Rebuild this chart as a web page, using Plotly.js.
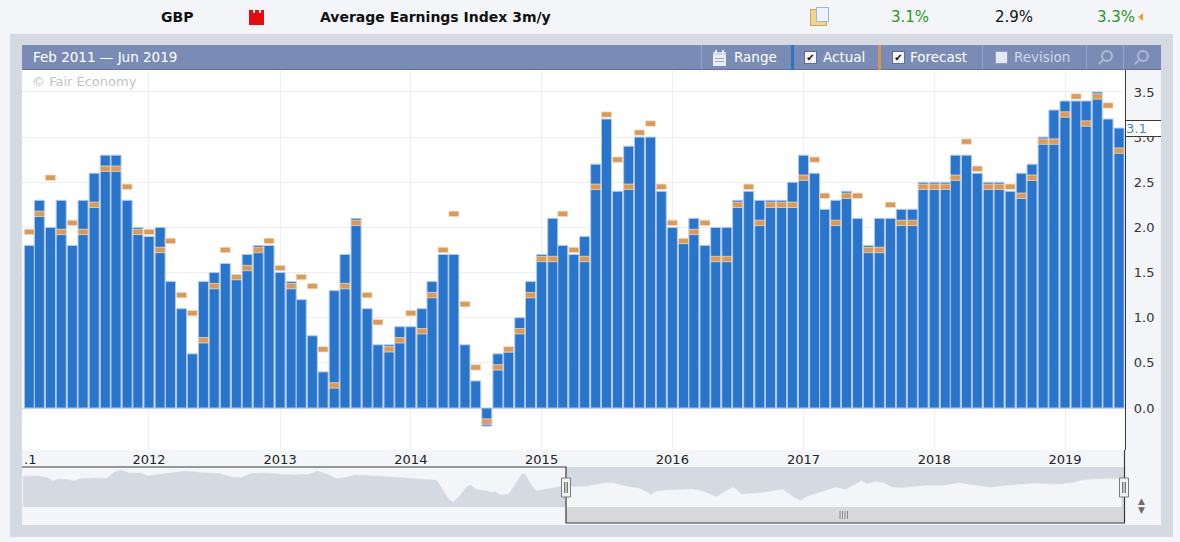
<!DOCTYPE html>
<html>
<head>
<meta charset="utf-8">
<script src="https://cdn.plot.ly/plotly-3.0.1.min.js"></script>
<style>
  body { margin: 0; width: 1180px; height: 542px; overflow: hidden; position: relative;
         background: #f4f5f9; font-family: "DejaVu Sans", sans-serif; }
  .abs { position: absolute; white-space: nowrap; }
  .top { top: 9px; font-size: 14px; line-height: 16px; }
  .btn { top: 45px; height: 24px; line-height: 24px; font-size: 13.5px; color: #fff; }
  .sep { top: 45px; width: 1px; height: 24px; background: #95a5c8; }
  .chk { top: 51px; width: 11px; height: 11px; background: #f4f4f4; border: 1px solid #5d6f99;
         font-size: 10px; line-height: 11px; text-align: center; color: #111; }
  .mag { top: 50px; width: 8px; height: 8px; border: 2px solid #aebbd8; border-radius: 50%; }
  .mag:after { content: ""; position: absolute; left: -5px; top: 9px; width: 6px; height: 2px;
               background: #aebbd8; transform: rotate(-45deg); }
</style>
</head>
<body>

<!-- event row -->
<div class="abs top" style="left:161px;font-weight:bold;color:#111">GBP</div>
<div class="abs" style="left:249px;top:13px;width:15px;height:12px;background:#e30d0d"></div>
<div class="abs" style="left:249px;top:10px;width:4px;height:3px;background:#e30d0d"></div>
<div class="abs" style="left:255px;top:10px;width:4px;height:3px;background:#e30d0d"></div>
<div class="abs" style="left:261px;top:10px;width:3px;height:3px;background:#e30d0d"></div>
<div class="abs top" style="left:320px;font-weight:bold;color:#111">Average Earnings Index 3m/y</div>
<div class="abs" style="left:810px;top:9px;width:15px;height:15px;background:#f1d58c;border:1px solid #c9a65c"></div>
<div class="abs" style="left:816px;top:7px;width:11px;height:13px;background:#eef3fb;border:1px solid #9fb4d6"></div>
<div class="abs top" style="left:891px;font-size:15px;color:#1f9a1f">3.1%</div>
<div class="abs top" style="left:995px;font-size:15px;color:#111">2.9%</div>
<div class="abs top" style="left:1097px;font-size:15px;color:#1f9a1f">3.3%</div>
<div class="abs" style="left:1138px;top:13px;width:0;height:0;border-top:4px solid transparent;border-bottom:4px solid transparent;border-right:5px solid #e6a23c"></div>

<!-- frame and chart header -->
<div class="abs" style="left:10px;top:34px;width:1163px;height:503px;background:#d5d9e2"></div>
<div class="abs" style="left:22px;top:45px;width:1139px;height:24px;background:#7a8cb6;border-bottom:1px solid #60729f"></div>
<div class="abs btn" style="left:33px">Feb 2011 — Jun 2019</div>

<div class="abs sep" style="left:701px"></div>
<!-- calendar icon -->
<div class="abs" style="left:713px;top:52px;width:13px;height:11px;background:#e9edf6;border-top:3px solid #cfd7ea"></div>
<div class="abs" style="left:715px;top:50px;width:2px;height:4px;background:#e9edf6"></div>
<div class="abs" style="left:722px;top:50px;width:2px;height:4px;background:#e9edf6"></div>
<div class="abs" style="left:715px;top:58px;width:9px;height:1px;background:#9aa8c8"></div>
<div class="abs" style="left:715px;top:61px;width:9px;height:1px;background:#9aa8c8"></div>
<div class="abs btn" style="left:734px">Range</div>
<div class="abs" style="left:791px;top:45px;width:3px;height:25px;background:#2a75cc"></div>
<div class="abs chk" style="left:804px">✔</div>
<div class="abs btn" style="left:823px">Actual</div>
<div class="abs" style="left:878px;top:45px;width:3px;height:25px;background:#d8954f"></div>
<div class="abs chk" style="left:892px">✔</div>
<div class="abs btn" style="left:910px">Forecast</div>
<div class="abs sep" style="left:982px"></div>
<div class="abs chk" style="left:995px;background:#e6e9f1;border-color:#8f9cbd"></div>
<div class="abs btn" style="left:1014px;color:#cfd6e8">Revision</div>
<div class="abs sep" style="left:1086px"></div>
<div class="abs mag" style="left:1101px"></div>
<div class="abs sep" style="left:1123px"></div>
<div class="abs mag" style="left:1137px"></div>

<div id="chart" class="abs" style="left:22px;top:70px;width:1139px;height:455px"></div>

<script>
// release months run Feb 2011 .. Jun 2019, one bar per month
var firstMonth = [2011, 2];

var actual = [
  1.8, 2.3, 2.0, 2.3, 1.8, 2.3, 2.6, 2.8, 2.8, 2.3, 2.0,       // 2011
  1.9, 2.0, 1.4, 1.1, 0.6, 1.4, 1.5, 1.6, 1.43, 1.7, 1.8, 1.8, // 2012
  1.5, 1.4, 1.2, 0.8, 0.4, 1.3, 1.7, 2.1, 1.1, 0.7, 0.7, 0.9,  // 2013
  0.9, 1.1, 1.4, 1.7, 1.7, 0.7, 0.3, -0.2, 0.6, 0.62, 1.0, 1.4,// 2014
  1.7, 2.1, 1.8, 1.7, 1.9, 2.7, 3.2, 2.4, 2.9, 3.0, 3.0, 2.4,  // 2015
  2.0, 1.83, 2.1, 1.8, 2.0, 2.0, 2.3, 2.4, 2.3, 2.3, 2.3, 2.5, // 2016
  2.8, 2.6, 2.2, 2.3, 2.4, 2.1, 1.8, 2.1, 2.1, 2.2, 2.2, 2.5,  // 2017
  2.5, 2.5, 2.8, 2.8, 2.6, 2.5, 2.5, 2.4, 2.6, 2.7, 3.0, 3.3,  // 2018
  3.4, 3.4, 3.4, 3.5, 3.2, 3.1                                 // 2019
];

var forecast = [
  2.0, 2.2, 2.6, 2.0, 2.1, 2.0, 2.3, 2.7, 2.7, 2.5, 2.0,
  2.0, 1.8, 1.9, 1.3, 1.1, 0.8, 1.4, 1.8, 1.5, 1.6, 1.8, 1.9,
  1.6, 1.4, 1.5, 1.4, 0.7, 0.3, 1.4, 2.1, 1.3, 1.0, 0.7, 0.8,
  1.1, 0.9, 1.3, 1.8, 2.2, 1.2, 0.5, -0.1, 0.5, 0.7, 0.9, 1.3,
  1.7, 1.7, 2.2, 1.8, 1.7, 2.5, 3.3, 2.8, 2.5, 3.1, 3.2, 2.5,
  2.1, 1.9, 2.0, 2.1, 1.7, 1.7, 2.3, 2.5, 2.1, 2.3, 2.3, 2.3,
  2.6, 2.8, 2.4, 2.1, 2.4, 2.4, 1.8, 1.8, 2.3, 2.1, 2.1, 2.5,
  2.5, 2.5, 2.6, 3.0, 2.7, 2.5, 2.5, 2.5, 2.4, 2.6, 3.0, 3.0,
  3.3, 3.5, 3.2, 3.5, 3.4, 2.9
];

var yTicks = [0, 0.5, 1, 1.5, 2, 2.5, 3, 3.5];
var latestLabel = '3.1';

// navigator strip: position along the strip (%) and height of the area
var navT = [0.1, 1.3, 2.3, 2.8, 3.3, 4.0, 4.7, 5.2, 6.5, 7.7, 8.4, 9.0, 9.7, 10.7, 11.4,
  12.6, 13.6, 14.7, 15.7, 16.6, 17.9, 19.1, 19.9, 20.8, 22.0, 23.3, 24.8, 26.0, 26.8,
  27.7, 28.5, 29.3, 30.3, 31.4, 32.4, 33.4, 34.4, 35.4, 36.5, 37.6, 38.2, 38.7, 39.1,
  39.6, 40.4, 40.7, 41.2, 42.1, 42.6, 42.9, 43.4, 44.1, 44.6, 45.3, 45.6, 46.1, 46.6,
  47.4, 48.3, 49.0, 50.1, 51.3, 51.9, 52.9, 53.6, 54.3, 55.3, 56.0, 57.0, 57.6, 58.6,
  59.6, 60.7, 61.7, 63.0, 63.8, 64.5, 65.3, 66.4, 67.4, 68.4, 69.0, 69.9, 70.6, 71.1,
  72.4, 73.7, 74.7, 75.4, 76.1, 76.6, 77.3, 78.1, 78.9, 79.9, 80.8, 82.1, 83.5, 85.0,
  85.8, 86.8, 87.8, 88.8, 89.8, 90.8, 91.8, 93.2, 94.2, 95.2, 96.2, 97.2, 98.2, 99.2, 99.7];
var navH = [30.7, 31.0, 29.4, 26.0, 27.7, 27.4, 26.0, 28.0, 29.0, 28.4, 35.0, 36.7, 34.0,
  34.0, 31.0, 32.7, 34.0, 35.7, 35.0, 34.0, 33.4, 29.4, 29.4, 33.4, 34.0, 32.7, 32.0,
  32.7, 35.7, 32.7, 28.4, 29.4, 32.0, 31.7, 30.7, 30.0, 29.4, 28.4, 27.4, 26.7, 16.7,
  7.4, 5.0, 10.0, 21.0, 21.7, 17.4, 16.0, 14.4, 15.0, 12.0, 12.7, 20.0, 32.7, 32.7,
  23.4, 16.0, 17.4, 19.4, 20.7, 20.0, 20.7, 22.0, 24.0, 24.0, 21.7, 19.4, 18.4, 12.4,
  15.7, 16.7, 17.4, 17.7, 15.7, 10.0, 16.0, 19.4, 12.4, 13.4, 14.4, 16.7, 17.4, 10.0,
  6.0, 10.0, 15.0, 19.4, 17.4, 21.7, 26.0, 22.7, 25.0, 24.0, 19.4, 19.0, 20.0, 21.4,
  21.4, 24.0, 22.4, 20.7, 19.4, 20.7, 21.7, 22.0, 23.4, 22.7, 22.7, 24.0, 26.7, 27.7,
  27.7, 28.4, 28.4];
var navSplit = 49.32;  // left edge of the selected window

function monthList(start, n) {
  var out = [];
  for (var i = 0; i < n; i++) {
    var m = start[1] - 1 + i;
    var y = start[0] + Math.floor(m / 12);
    var mm = (m % 12) + 1;
    out.push(y + '-' + (mm < 10 ? '0' + mm : mm) + '-01');
  }
  return out;
}

var months = monthList(firstMonth, actual.length);
var DAY = 86400000;
var barW = 28 * DAY;
var fcH = 0.06, fcDrop = 0.02;

// pixel helpers for the decorations (plot area spans x 22..1125, y 70..507 on the page)
function px(x) { return (x - 22) / 1103; }
function py(y) { return (507 - y) / 437; }

var traceActual = {
  type: 'bar', x: months, y: actual, width: barW,
  marker: { color: '#2a75cc', line: { color: '#b3caee', width: 1 } },
  hoverinfo: 'skip'
};

var traceForecast = {
  type: 'bar', x: months,
  base: forecast.map(function (f) { return f - fcDrop - fcH; }),
  y: forecast.map(function () { return fcH; }),
  width: barW,
  marker: { color: '#d89b5c', line: { color: 'rgba(246,224,198,0.9)', width: 0.8 } },
  hoverinfo: 'skip'
};

var navLeft = {
  type: 'scatter', mode: 'lines', x: navT, y: navH, xaxis: 'x2', yaxis: 'y2',
  fill: 'tozeroy', fillcolor: '#d5d9e2', line: { color: '#d5d9e2', width: 0.5 },
  hoverinfo: 'skip'
};
var navRight = {
  type: 'scatter', mode: 'lines', x: navT, y: navH, xaxis: 'x3', yaxis: 'y2',
  fill: 'tozeroy', fillcolor: '#f4f5f9', line: { color: '#f4f5f9', width: 0.5 },
  hoverinfo: 'skip'
};

var dark = '#3a3a3a';
var shapes = [
  // navigator background and the selected window
  { type: 'rect', xref: 'paper', yref: 'paper', x0: 0, x1: 1, y0: py(507), y1: py(467),
    fillcolor: '#f4f5f9', line: { width: 0 }, layer: 'below' },
  { type: 'rect', xref: 'paper', yref: 'paper', x0: px(566), x1: 1, y0: py(507), y1: py(467),
    fillcolor: '#d5d9e2', line: { width: 0 }, layer: 'below' },
  // scrollbar
  { type: 'rect', xref: 'paper', yref: 'paper', x0: px(566), x1: px(1124.5), y0: py(507), y1: py(523),
    fillcolor: '#d9d9db', line: { width: 0 } },
  // outline of the window + axis line continuation
  { type: 'path', xref: 'paper', yref: 'paper',
    path: 'M ' + px(22) + ',' + py(467) + ' L ' + px(566) + ',' + py(467) +
          ' L ' + px(566) + ',' + py(523) + ' L ' + px(1124.5) + ',' + py(523) +
          ' L ' + px(1124.5) + ',' + py(450),
    line: { color: dark, width: 1.2 } }
];

// slider handles
[566, 1124].forEach(function (cx) {
  shapes.push({ type: 'rect', xref: 'paper', yref: 'paper', x0: px(cx - 4.5), x1: px(cx + 4.5),
    y0: py(497), y1: py(478), fillcolor: '#f3f3f3', line: { color: '#7a7a7a', width: 1 } });
  [-1.2, 1.2].forEach(function (d) {
    shapes.push({ type: 'line', xref: 'paper', yref: 'paper', x0: px(cx + d), x1: px(cx + d),
      y0: py(482), y1: py(493), line: { color: '#444', width: 1 } });
  });
});
// scrollbar grip
[840, 842.5, 845, 847.5].forEach(function (gx) {
  shapes.push({ type: 'line', xref: 'paper', yref: 'paper', x0: px(gx), x1: px(gx),
    y0: py(511), y1: py(519), line: { color: '#777', width: 0.8 } });
});

var annotations = [
  { xref: 'paper', yref: 'paper', x: px(30), y: py(81), xanchor: 'left', yanchor: 'middle',
    text: '© Fair Economy', showarrow: false, font: { size: 13, color: '#bfc2c9' } },
  { xref: 'paper', yref: 'y', x: 1, y: actual[actual.length - 1], xanchor: 'left', yanchor: 'middle',
    text: latestLabel, showarrow: false, align: 'left', width: 40, height: 15,
    bgcolor: '#ffffff', bordercolor: dark, borderwidth: 1, borderpad: 0,
    font: { size: 13, color: '#3d86dc' } },
  { xref: 'paper', yref: 'paper', x: px(22), y: py(459), xanchor: 'left', yanchor: 'middle',
    text: '.1', showarrow: false, font: { size: 13, color: '#222' } },
  { xref: 'paper', yref: 'paper', x: px(1141), y: py(501), xanchor: 'center', yanchor: 'middle',
    text: '▲', showarrow: false, font: { size: 9, color: '#6d6d6d' } },
  { xref: 'paper', yref: 'paper', x: px(1141), y: py(510), xanchor: 'center', yanchor: 'middle',
    text: '▼', showarrow: false, font: { size: 9, color: '#6d6d6d' } }
];

var layout = {
  width: 1139, height: 455,
  margin: { l: 0, r: 36, t: 0, b: 18, pad: 0 },
  paper_bgcolor: '#f4f5f9', plot_bgcolor: '#ffffff',
  barmode: 'overlay', bargap: 0, showlegend: false,
  font: { family: '"DejaVu Sans", sans-serif', size: 13, color: '#222' },
  xaxis: {
    type: 'date', range: ['2011-01-11 12:00', '2019-06-17 12:00'], domain: [0, 1], anchor: 'y',
    tick0: '2011-01-01', dtick: 'M12', tickformat: '%Y', ticks: '',
    showgrid: true, gridcolor: '#eceef4', gridwidth: 1, zeroline: false, showline: false,
    tickfont: { size: 13, color: '#222' }, fixedrange: true
  },
  yaxis: {
    domain: [py(450), 1], range: [-0.465, 3.743], side: 'right', anchor: 'x',
    tickmode: 'array', tickvals: yTicks, tickformat: '.1f', ticks: '',
    ticklabelstandoff: 5,
    showgrid: true, gridcolor: '#eceef4', gridwidth: 1,
    zeroline: true, zerolinecolor: '#cfd8e8', zerolinewidth: 1,
    showline: true, linecolor: dark, linewidth: 1.2,
    tickfont: { size: 13, color: '#333' }, fixedrange: true
  },
  xaxis2: { domain: [0, px(566)], range: [0, navSplit], anchor: 'y2', visible: false, fixedrange: true },
  xaxis3: { domain: [px(566), 1], range: [navSplit, 100], anchor: 'y2', visible: false, fixedrange: true },
  yaxis2: { domain: [0, py(467)], range: [0, 40], anchor: 'x2', visible: false, fixedrange: true },
  shapes: shapes,
  annotations: annotations
};

Plotly.newPlot('chart', [traceActual, traceForecast, navLeft, navRight], layout,
  { displayModeBar: false, staticPlot: true });
</script>
</body>
</html>
